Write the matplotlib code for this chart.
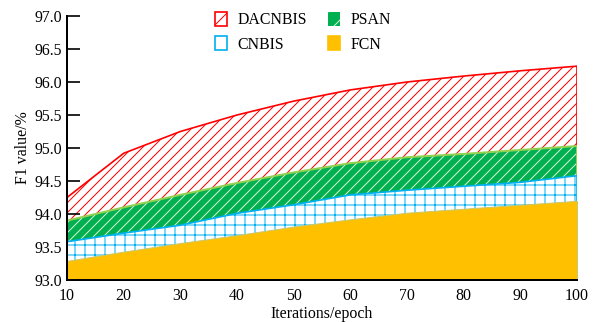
import matplotlib
matplotlib.use("Agg")
import matplotlib.pyplot as plt
from matplotlib.patches import Patch
from matplotlib.ticker import FormatStrFormatter

plt.rcParams['font.family'] = ['Liberation Serif', 'DejaVu Serif']
plt.rcParams['hatch.linewidth'] = 0.6

# values
epochs = [10, 20, 30, 40, 50, 60, 70, 80, 90, 100]
dacnbis = [94.25, 94.92, 95.25, 95.50, 95.71, 95.88, 96.00, 96.09, 96.17, 96.24]
psan = [93.90, 94.10, 94.29, 94.47, 94.63, 94.77, 94.86, 94.91, 94.97, 95.03]
cnbis = [93.58, 93.71, 93.83, 94.01, 94.14, 94.29, 94.36, 94.42, 94.48, 94.58]
fcn = [93.29, 93.43, 93.56, 93.68, 93.81, 93.92, 94.02, 94.08, 94.14, 94.20]
base = 93.0

fig = plt.figure(figsize=(599/120, 322/120), dpi=120)
ax = fig.add_axes([67/599, 1-280/322, 510/599, 264/322])

# back to front: DACNBIS, PSAN, CNBIS, FCN
ax.fill_between(epochs, base, dacnbis, facecolor='white', edgecolor='#ff0000',
                hatch='////', linewidth=1.0, zorder=1)

ax.fill_between(epochs, base, psan, facecolor='#00b050', edgecolor='#d4f4d4',
                hatch='////', linewidth=0.01, zorder=2)
ax.fill_between(epochs, base, psan, facecolor='none', edgecolor='#92d050',
                linewidth=1.2, zorder=2)

ax.fill_between(epochs, base, cnbis, facecolor='white', edgecolor='#00b0f0',
                hatch='++', linewidth=1.0, zorder=3)

ax.fill_between(epochs, base, fcn, facecolor='#ffc000', edgecolor='#c9c86a',
                linewidth=0.6, zorder=4)

# legend proxies
handles = [
    Patch(facecolor='white', edgecolor='#ff0000', hatch='//', linewidth=1.0, label='DACNBIS'),
    Patch(facecolor='white', edgecolor='#00b0f0', hatch='|', linewidth=1.0, label='CNBIS'),
    Patch(facecolor='#00b050', edgecolor='#d4f4d4', hatch='//', linewidth=0.01, label='PSAN'),
    Patch(facecolor='#ffc000', edgecolor='#ffc000', label='FCN'),
]
ax.legend(handles=handles, ncol=2, loc='upper center', bbox_to_anchor=(0.463, 1.07),
          frameon=False, fontsize=9.5, handlelength=0.75, handleheight=1.0,
          columnspacing=1.3, handletextpad=0.7, labelspacing=0.5)

ax.set_xlim(10, 100)
ax.set_ylim(93.0, 97.0)
ax.set_xticks(epochs)
ax.set_yticks([93.0, 93.5, 94.0, 94.5, 95.0, 95.5, 96.0, 96.5, 97.0])
ax.yaxis.set_major_formatter(FormatStrFormatter('%.1f'))

for s in ['top', 'right']:
    ax.spines[s].set_visible(False)
for s in ['left', 'bottom']:
    ax.spines[s].set_linewidth(1.2)
    ax.spines[s].set_zorder(6)

ax.tick_params(axis='y', direction='in', length=8, width=1.0, labelsize=9.5, pad=3)
ax.tick_params(axis='x', direction='in', length=5, width=1.0, labelsize=9.5, pad=5)

ax.set_xlabel('Iterations/epoch', fontsize=9.5, labelpad=1)
ax.set_ylabel('F1 value/%', fontsize=9.5, labelpad=2)

fig.savefig('out.png', dpi=120)
